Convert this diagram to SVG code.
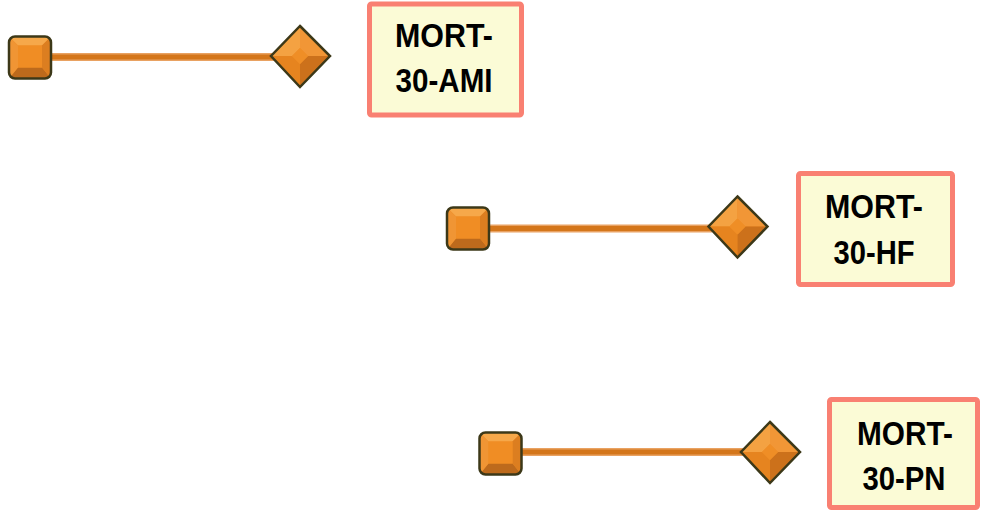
<svg xmlns="http://www.w3.org/2000/svg" width="981" height="513" viewBox="0 0 981 513">
<style>
.box{fill:#fbfbd6;stroke:#f98072;stroke-width:5}
.lbl{font-family:"Liberation Sans",Arial,sans-serif;font-weight:bold;font-size:34px;fill:#000;text-anchor:middle}
.lo{stroke:#e9a262;stroke-width:8;fill:none}
.li{stroke:#d4761a;stroke-width:5;fill:none}
</style>
<defs>
<clipPath id="sqc"><rect x="-21" y="-21" width="42" height="42" rx="6"/></clipPath>
<g id="sq">
<g clip-path="url(#sqc)">
<rect x="-21" y="-21" width="42" height="42" fill="#ee8b22"/>
<polygon points="-21,-21 21,-21 12,-12 -12,-12" fill="#f6a84a"/>
<polygon points="-21,21 21,21 12,10 -12,10" fill="#bd6a1c"/>
<polygon points="-21,-21 -12,-12 -12,10 -21,21" fill="#f09534"/>
<polygon points="21,-21 12,-12 12,10 21,21" fill="#dc7e20"/>
<rect x="-12" y="-12" width="24" height="22" fill="#f08d24"/>
</g>
<rect x="-21" y="-21" width="42" height="42" rx="6" fill="none" stroke="#3c3818" stroke-width="2.5"/>
</g>
<g id="dia">
<polygon points="0,-30 30,0 0,31 -29,0" fill="#ef8c22"/>
<polygon points="0,-30 -29,0 -8,0 0,-8" fill="#f4a242"/>
<polygon points="0,-30 30,0 8,0 0,-8" fill="#f19636"/>
<polygon points="-29,0 0,31 0,8 -8,0" fill="#e6841f"/>
<polygon points="30,0 0,31 0,8 8,0" fill="#cc711b"/>
<polygon points="0,-8 8,0 0,8 -8,0" fill="#ef8e26"/>
<polygon points="0,-30 30,0 0,31 -29,0" fill="none" stroke="#3c3818" stroke-width="2.5" stroke-linejoin="miter"/>
</g>
</defs>
<g id="connectors">
<g id="conn-ami">
<line class="lo" x1="50" y1="57" x2="275" y2="57"/>
<line class="li" x1="50" y1="57" x2="275" y2="57"/>
<use href="#sq" transform="translate(30,57.5)"/>
<use href="#dia" transform="translate(300,56)"/>
</g>
<g id="conn-hf">
<line class="lo" x1="488" y1="228.5" x2="712" y2="228.5"/>
<line class="li" x1="488" y1="228.5" x2="712" y2="228.5"/>
<use href="#sq" transform="translate(468,228.5)"/>
<use href="#dia" transform="translate(737.5,226.5)"/>
</g>
<g id="conn-pn">
<line class="lo" x1="520" y1="452" x2="744" y2="452"/>
<line class="li" x1="520" y1="452" x2="744" y2="452"/>
<use href="#sq" transform="translate(500.5,453.5)"/>
<use href="#dia" transform="translate(770,452)"/>
</g>
</g>
<g id="node-ami">
<rect class="box" x="369.5" y="4" width="152" height="111" rx="2"/>
<text class="lbl" x="444" y="47" textLength="98" lengthAdjust="spacingAndGlyphs">MORT-</text>
<text class="lbl" x="444" y="92" textLength="97" lengthAdjust="spacingAndGlyphs">30-AMI</text>
</g>
<g id="node-hf">
<rect class="box" x="798.5" y="173.5" width="154" height="111" rx="2"/>
<text class="lbl" x="874" y="218" textLength="98" lengthAdjust="spacingAndGlyphs">MORT-</text>
<text class="lbl" x="874" y="264" textLength="81" lengthAdjust="spacingAndGlyphs">30-HF</text>
</g>
<g id="node-pn">
<rect class="box" x="829.5" y="399.5" width="148" height="108" rx="2"/>
<text class="lbl" x="905" y="445" textLength="96" lengthAdjust="spacingAndGlyphs">MORT-</text>
<text class="lbl" x="904" y="490" textLength="83" lengthAdjust="spacingAndGlyphs">30-PN</text>
</g>
</svg>
